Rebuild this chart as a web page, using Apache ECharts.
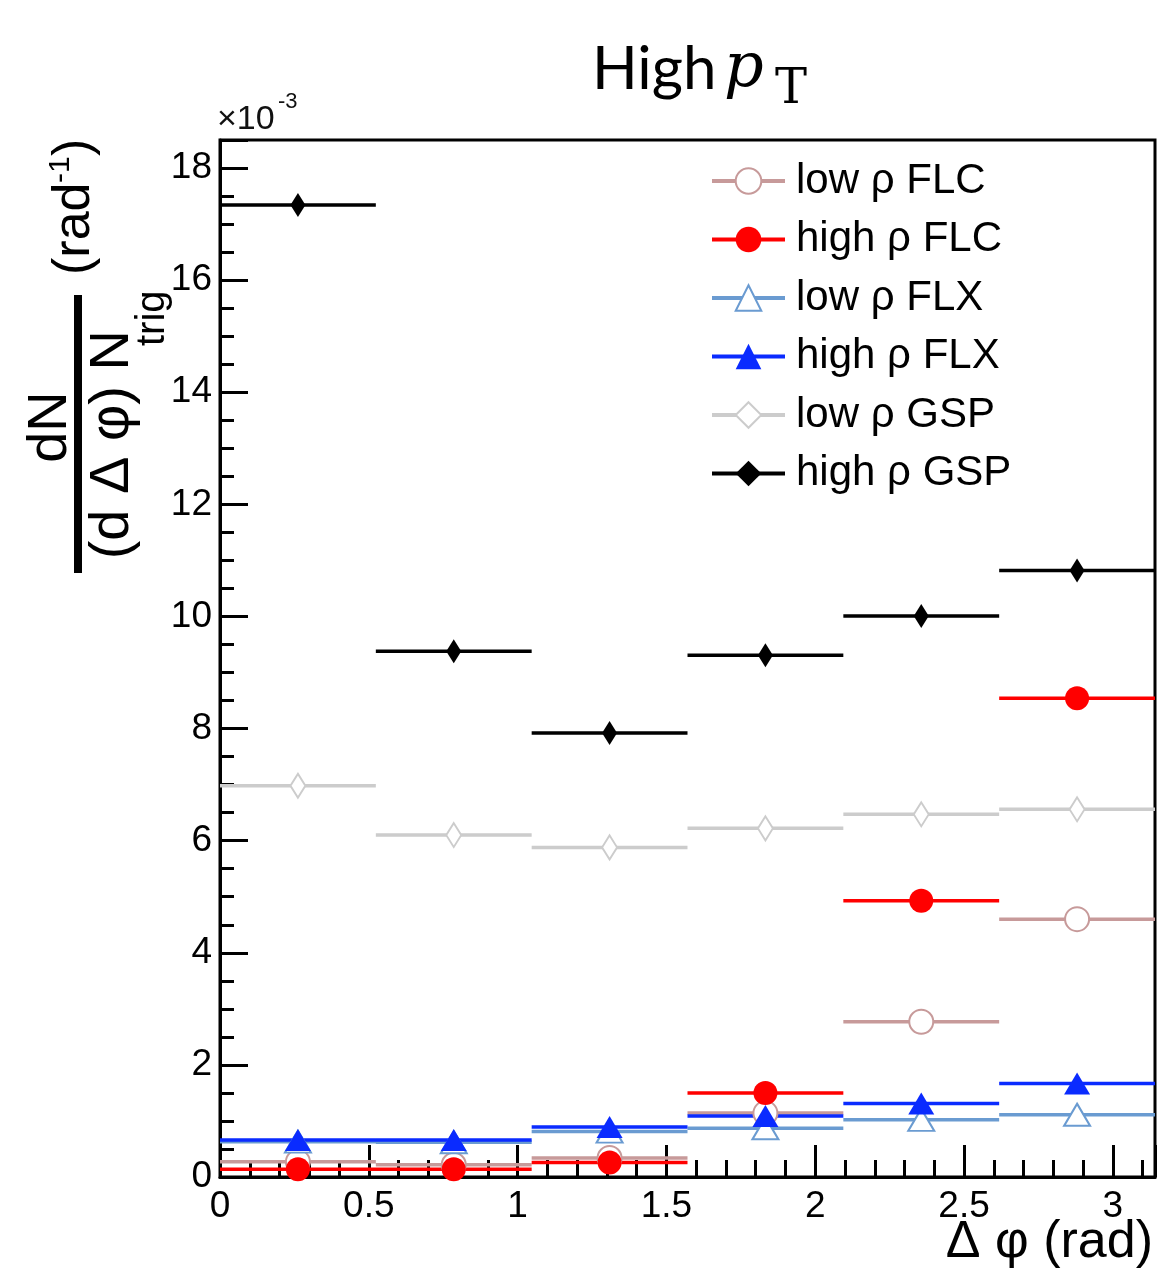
<!DOCTYPE html>
<html>
<head>
<meta charset="utf-8">
<script src="https://cdn.jsdelivr.net/npm/echarts@6/dist/echarts.min.js"></script>
<style>
  html, body { margin: 0; padding: 0; background: #fff; }
  #chart { width: 1164px; height: 1269px; }
</style>
</head>
<body>
<div id="chart"></div>
<script>
// delta-phi bins (rad), 6 bins from 0 to pi
const binEdges = [0, 0.5236, 1.0472, 1.5708, 2.0944, 2.6180, 3.1416];
const binCenters = [0.2618, 0.7854, 1.3090, 1.8326, 2.3562, 2.8798];

// per-trigger yields, in units of 1e-3 rad^-1
const lowFLC = [0.27, 0.22, 0.34, 1.14, 2.77, 4.60];
const highFLC = [0.14, 0.14, 0.26, 1.50, 4.93, 8.54];
const lowFLX = [0.63, 0.62, 0.81, 0.87, 1.02, 1.11];
const highFLX = [0.66, 0.66, 0.89, 1.09, 1.31, 1.67];
const lowGSP = [6.98, 6.10, 5.88, 6.22, 6.47, 6.56];
const highGSP = [17.34, 9.38, 7.92, 9.31, 10.01, 10.82];

const seriesNames = ["low ρ FLC", "high ρ FLC", "low ρ FLX", "high ρ FLX", "low ρ GSP", "high ρ GSP"];

const FONT = '"Liberation Sans", Arial, sans-serif';

// horizontal bin-width bar with the marker at the bin centre
function binData(vals) {
  const out = [];
  vals.forEach((v, i) => {
    out.push({ value: [binEdges[i], v], symbol: "none" });
    out.push({ value: [binCenters[i], v] });
    out.push({ value: [binEdges[i + 1], v], symbol: "none" });
    out.push(["-", "-"]);
  });
  return out;
}

function makeSeries(name, vals, color, symbol, size, hollow) {
  return {
    name: name,
    type: "line",
    data: binData(vals),
    connectNulls: false,
    symbol: symbol,
    symbolSize: size,
    showSymbol: true,
    silent: true,
    lineStyle: { color: color, width: 3.5 },
    itemStyle: { color: color, borderColor: color, borderWidth: hollow ? 3 : 0 },
  };
}

const myChart = echarts.init(document.getElementById("chart"));

myChart.setOption({
  animation: false,
  backgroundColor: "#fff",
  grid: {
    left: 220,
    right: 9,
    top: 140,
    bottom: 92,
    show: true,
    borderColor: "#000",
    borderWidth: 3,
  },
  legend: {
    orient: "vertical",
    left: 705,
    top: 154,
    itemWidth: 73,
    itemHeight: 32,
    itemGap: 14.5,
    lineStyle: { width: 4 },
    textStyle: {
      fontSize: 42,
      fontFamily: FONT,
      color: "#000",
      lineHeight: 44,
      padding: [0, 0, 0, 6],
    },
    data: seriesNames,
  },
  xAxis: {
    type: "value",
    min: 0,
    max: Math.PI,
    interval: 0.5,
    axisLine: { lineStyle: { color: "#000", width: 3 } },
    axisTick: { inside: true, length: 32, lineStyle: { color: "#000", width: 3 } },
    minorTick: { show: true, splitNumber: 5, length: 17, lineStyle: { color: "#000", width: 3 } },
    splitLine: { show: false },
    axisLabel: {
      color: "#000",
      fontSize: 37,
      fontFamily: FONT,
      margin: 11,
      showMaxLabel: false,
    },
  },
  yAxis: {
    type: "value",
    min: 0,
    max: 18.5,
    interval: 2,
    axisLine: { lineStyle: { color: "#000", width: 3 } },
    axisTick: { inside: true, length: 28, lineStyle: { color: "#000", width: 3 } },
    minorTick: { show: true, splitNumber: 4, length: 14, lineStyle: { color: "#000", width: 3 } },
    splitLine: { show: false },
    axisLabel: {
      color: "#000",
      fontSize: 37,
      fontFamily: FONT,
      margin: 8,
      showMaxLabel: false,
    },
  },
  graphic: [
    // title
    { type: "text", x: 592, y: 70, style: { text: "High", font: '60px Lato, sans-serif', fill: "#000", verticalAlign: "middle" } },
    { type: "text", x: 724, y: 70, style: { text: "p", font: 'italic 62px "DejaVu Serif", serif', fill: "#000", verticalAlign: "middle" } },
    { type: "text", x: 775, y: 91, style: { text: "T", font: '48px "DejaVu Serif", serif', fill: "#000", verticalAlign: "middle" } },
    // exponent
    { type: "text", x: 217, y: 120, style: { text: "×10", font: "34px " + FONT, fill: "#111", verticalAlign: "middle" } },
    { type: "text", x: 278, y: 102, style: { text: "-3", font: "22px " + FONT, fill: "#111", verticalAlign: "middle" } },
    // x title
    { type: "text", x: 1153, y: 1243, style: { text: "Δ φ (rad)", font: "52px " + FONT, fill: "#000", align: "right", verticalAlign: "middle" } },
    // y title, rotated
    {
      type: "group",
      x: 78,
      y: 434,
      rotation: Math.PI / 2,
      children: [
        { type: "rect", shape: { x: -139, y: -4, width: 278, height: 8 }, style: { fill: "#000" } },
        { type: "text", x: 7, y: -27, style: { text: "dN", font: "56px " + FONT, fill: "#000", align: "center", verticalAlign: "middle" } },
        { type: "text", x: 104, y: 35, style: { text: "(d Δ φ) N", font: "56px " + FONT, fill: "#000", align: "right", verticalAlign: "middle" } },
        { type: "text", x: 88, y: 75, style: { text: "trig", font: "40px " + FONT, fill: "#000", verticalAlign: "middle" } },
        { type: "text", x: 159, y: -3, style: { text: "(rad", font: "52px " + FONT, fill: "#000", verticalAlign: "middle" } },
        { type: "text", x: 251, y: -17, style: { text: "-1", font: "30px " + FONT, fill: "#000", verticalAlign: "middle" } },
        { type: "text", x: 278, y: -3, style: { text: ")", font: "52px " + FONT, fill: "#000", verticalAlign: "middle" } },
      ],
    },
  ],
  series: [
    makeSeries(seriesNames[0], lowFLC, "#c79a9a", "emptyCircle", 24, true),
    makeSeries(seriesNames[1], highFLC, "#ff0000", "circle", 24, false),
    makeSeries(seriesNames[2], lowFLX, "#6a9bd1", "emptyTriangle", [26, 22], true),
    makeSeries(seriesNames[3], highFLX, "#0a2bff", "triangle", [26, 22], false),
    makeSeries(seriesNames[4], lowGSP, "#cccccc", "emptyDiamond", [15, 24], true),
    makeSeries(seriesNames[5], highGSP, "#000000", "diamond", [15, 24], false),
  ],
});
</script>
</body>
</html>
